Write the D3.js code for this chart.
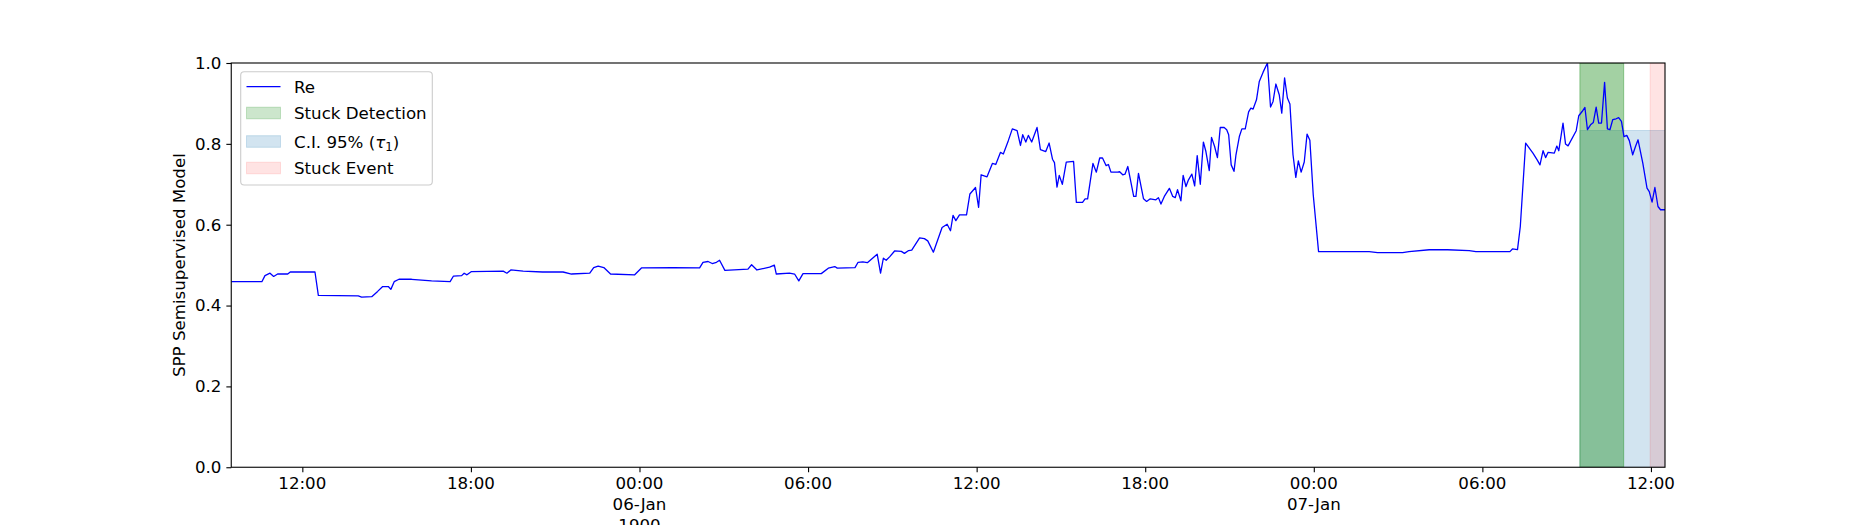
<!DOCTYPE html>
<html>
<head>
<meta charset="utf-8">
<script src="https://cdn.jsdelivr.net/npm/d3@7"></script>
<style>
  html, body { margin: 0; padding: 0; background: #fff; }
  svg { display: block; }
  text { font-family: "DejaVu Sans", sans-serif; }
</style>
</head>
<body>
<svg id="chart" width="1850" height="525"></svg>
<script>
// ---------------- data ----------------
// hours since 1900-01-05 00:00
const hours = [
  9.47, 10.56, 10.67, 10.85, 10.98, 11.12, 11.48, 11.57, 12.45, 12.57, 13.99, 14.11, 14.47, 14.68, 14.86, 15.06,
  15.15, 15.27, 15.44, 15.89, 16.6, 17.26, 17.38, 17.67, 17.76, 17.86, 18.02, 19.15, 19.28, 19.42, 19.86, 20.55,
  21.28, 21.58, 22.23, 22.37, 22.53, 22.73, 22.97, 23.83, 24.07, 25.19, 26.14, 26.26, 26.44, 26.59, 26.74, 26.85,
  27.04, 27.86, 27.99, 28.18, 28.63, 28.80, 28.87, 29.34, 29.52, 29.67, 29.82, 30.47, 30.72, 30.95, 31.04, 31.67,
  31.78, 31.95, 32.11, 32.46, 32.58, 32.68, 32.78, 32.91, 33.08, 33.32, 33.43, 33.58, 33.69, 33.97, 34.14, 34.26,
  34.46, 34.77, 34.95, 35.07, 35.16, 35.26, 35.39, 35.64, 35.76, 35.96, 36.07, 36.16, 36.37, 36.56, 36.68, 36.85,
  36.95, 37.13, 37.27, 37.44, 37.56, 37.64, 37.75, 37.84, 37.96, 38.15, 38.27, 38.46, 38.58, 38.70, 38.77, 38.86,
  38.94, 39.05, 39.19, 39.45, 39.55, 39.77, 39.86, 39.95, 40.14, 40.26, 40.38, 40.48, 40.61, 40.69, 40.78, 41.02,
  41.09, 41.20, 41.28, 41.38, 41.59, 41.67, 41.76, 41.94, 42.05, 42.18, 42.38, 42.47, 42.56, 42.68, 42.86, 42.98,
  43.07, 43.15, 43.27, 43.35, 43.45, 43.54, 43.66, 43.76, 43.85, 43.96, 44.07, 44.16, 44.28, 44.36, 44.47, 44.57,
  44.67, 44.81, 44.90, 44.97, 45.06, 45.16, 45.23, 45.35, 45.44, 45.56, 45.68, 45.76, 45.84, 45.96, 46.06, 46.20,
  46.35, 46.46, 46.55, 46.65, 46.77, 46.86, 46.96, 47.06, 47.15, 47.26, 47.36, 47.45, 47.55, 47.66, 47.76, 47.86,
  47.98, 48.17, 49.97, 50.27, 51.16, 51.39, 52.11, 52.76, 53.53, 53.77, 54.98, 55.07, 55.25, 55.35, 55.54, 55.80,
  55.95, 56.05, 56.16, 56.25, 56.34, 56.56, 56.65, 56.72, 56.87, 56.96, 57.05, 57.34, 57.43, 57.55, 57.65, 57.74,
  57.85, 57.95, 58.05, 58.14, 58.24, 58.35, 58.45, 58.54, 58.64, 58.76, 58.85, 58.95, 59.04, 59.14, 59.23, 59.35,
  59.45, 59.54, 59.71, 59.86, 59.94, 60.04, 60.14, 60.25, 60.34, 60.50
];
const reValues = [
  0.459, 0.459, 0.474, 0.480, 0.472, 0.478, 0.478, 0.483, 0.483, 0.425, 0.424, 0.421, 0.422, 0.435, 0.447, 0.447,
  0.440, 0.459, 0.465, 0.465, 0.461, 0.459, 0.473, 0.474, 0.480, 0.476, 0.484, 0.485, 0.480, 0.488, 0.485, 0.483,
  0.483, 0.478, 0.480, 0.494, 0.4975, 0.494, 0.478, 0.476, 0.493, 0.494, 0.493, 0.507, 0.509, 0.504, 0.507, 0.512,
  0.487, 0.490, 0.501, 0.488, 0.495, 0.500, 0.478, 0.480, 0.478, 0.461, 0.479, 0.479, 0.4925, 0.4965, 0.4925, 0.494,
  0.507, 0.508, 0.506, 0.527, 0.480, 0.517, 0.512, 0.521, 0.535, 0.534, 0.529, 0.536, 0.537, 0.5675, 0.5655, 0.560,
  0.532, 0.593, 0.601, 0.585, 0.623, 0.610, 0.6245, 0.6245, 0.676, 0.692, 0.643, 0.7235, 0.7185, 0.7515, 0.749, 0.779,
  0.775, 0.8085, 0.837, 0.8325, 0.796, 0.8225, 0.8045, 0.821, 0.8045, 0.8405, 0.7855, 0.781, 0.802, 0.762, 0.7535, 0.693,
  0.722, 0.700, 0.755, 0.7565, 0.655, 0.655, 0.664, 0.664, 0.7515, 0.730, 0.765, 0.765, 0.746, 0.749, 0.730, 0.730,
  0.731, 0.7235, 0.725, 0.744, 0.670, 0.670, 0.727, 0.664, 0.6575, 0.664, 0.6615, 0.667, 0.651, 0.670, 0.690, 0.670,
  0.667, 0.6865, 0.659, 0.722, 0.6945, 0.711, 0.725, 0.696, 0.771, 0.700, 0.8045, 0.781, 0.734, 0.816, 0.7935, 0.766,
  0.8405, 0.8405, 0.835, 0.8225, 0.748, 0.732, 0.773, 0.818, 0.837, 0.837, 0.879, 0.8885, 0.886, 0.909, 0.9545, 0.978,
  1.0, 0.891, 0.905, 0.948, 0.9215, 0.876, 0.963, 0.9135, 0.8985, 0.773, 0.717, 0.758, 0.730, 0.755, 0.824, 0.809,
  0.674, 0.5335, 0.5335, 0.531, 0.531, 0.5335, 0.538, 0.538, 0.536, 0.5335, 0.5335, 0.540, 0.5385, 0.5955, 0.802, 0.777,
  0.7605, 0.748, 0.783, 0.766, 0.779, 0.777, 0.7945, 0.783, 0.8515, 0.7995, 0.795, 0.8325, 0.8695, 0.880, 0.890, 0.835,
  0.847, 0.853, 0.891, 0.8515, 0.8515, 0.952, 0.837, 0.835, 0.860, 0.862, 0.865, 0.8555, 0.818, 0.821, 0.808, 0.773,
  0.7935, 0.810, 0.7525, 0.6905, 0.682, 0.656, 0.692, 0.645, 0.637, 0.637
];
// x range (hours since 1900-01-05 00:00)
const xDomainHours = [9.47, 60.5];
// shaded spans: [startHour, endHour, topValue]
const detectionSpan = [57.47, 59.03, 1.0];
const ciSpan = [57.47, 60.6, 0.833];
const stuckSpan = [59.97, 60.6, 1.0];
// ticks
const xTickHours = [12, 18, 24, 30, 36, 42, 48, 54, 60];
const xTickLabels = [["12:00"], ["18:00"], ["00:00", "06-Jan", "1900"], ["06:00"], ["12:00"], ["18:00"], ["00:00", "07-Jan"], ["06:00"], ["12:00"]];
const yTicks = [0.0, 0.2, 0.4, 0.6, 0.8, 1.0];
const yLabel = "SPP Semisupervised Model";
const legendLabels = ["Re", "Stuck Detection", "C.I. 95% (", "Stuck Event"];

// ---------------- layout ----------------
const W = 1850, H = 525;
const margin = { left: 231.25, right: 1665, top: 63, bottom: 467.25 };
const FS = 16.67;
const base = Date.UTC(1900, 0, 5);
const toDate = h => new Date(base + h * 3600e3);

const svg = d3.select("#chart");
const x = d3.scaleUtc().domain(xDomainHours.map(toDate)).range([margin.left, margin.right]);
const y = d3.scaleLinear().domain([0, 1]).range([margin.bottom, margin.top]);

svg.append("defs").append("clipPath").attr("id", "clip")
  .append("rect").attr("x", margin.left).attr("y", margin.top)
  .attr("width", margin.right - margin.left).attr("height", margin.bottom - margin.top);

const plot = svg.append("g").attr("clip-path", "url(#clip)");

function span(s, color, op) {
  plot.append("rect")
    .attr("x", x(toDate(s[0]))).attr("width", x(toDate(s[1])) - x(toDate(s[0])))
    .attr("y", y(s[2])).attr("height", y(0) - y(s[2]))
    .attr("fill", color).attr("fill-opacity", op)
    .attr("stroke", color).attr("stroke-opacity", op).attr("stroke-width", 1);
}
span(ciSpan, "#1f77b4", 0.2);
span(detectionSpan, "#008000", 0.36);
span(stuckSpan, "#ff0000", 0.11);

const pts = hours.map((h, i) => [toDate(h), reValues[i]]);
plot.append("path")
  .datum(pts)
  .attr("fill", "none").attr("stroke", "#0000ff").attr("stroke-width", 1.3)
  .attr("stroke-linejoin", "round")
  .attr("d", d3.line().x(d => x(d[0])).y(d => y(d[1])));

// spines
svg.append("rect")
  .attr("x", margin.left).attr("y", margin.top)
  .attr("width", margin.right - margin.left).attr("height", margin.bottom - margin.top)
  .attr("fill", "none").attr("stroke", "#000").attr("stroke-width", 1.1);

// y axis
const yAxis = d3.axisLeft(y).tickValues(yTicks).tickFormat(d3.format(".1f")).tickSize(4.9).tickPadding(4.9);
const gy = svg.append("g").attr("transform", `translate(${margin.left},0)`).call(yAxis);
gy.select(".domain").remove();
gy.selectAll("line").attr("stroke", "#000").attr("stroke-width", 1.1);
gy.selectAll("text").attr("font-size", FS).attr("fill", "#000").attr("font-family", "DejaVu Sans");

// x axis
const xTickDates = xTickHours.map(toDate);
const xAxis = d3.axisBottom(x).tickValues(xTickDates).tickFormat("").tickSize(4.9);
const gx = svg.append("g").attr("transform", `translate(0,${margin.bottom})`).call(xAxis);
gx.select(".domain").remove();
gx.selectAll("line").attr("stroke", "#000").attr("stroke-width", 1.1);
xTickDates.forEach((d, i) => {
  const t = svg.append("text").attr("x", x(d)).attr("text-anchor", "middle")
    .attr("font-size", FS).attr("fill", "#000");
  xTickLabels[i].forEach((line, j) => {
    t.append("tspan").attr("x", x(d)).attr("y", margin.bottom + 22 + j * 21).text(line);
  });
});

// y label
svg.append("text")
  .attr("transform", `translate(184.5,${(margin.top + margin.bottom) / 2}) rotate(-90)`)
  .attr("text-anchor", "middle").attr("font-size", FS).attr("fill", "#000")
  .text(yLabel);

// legend
const lg = svg.append("g");
lg.append("rect").attr("x", 240.7).attr("y", 71.7).attr("width", 191.6).attr("height", 113.3)
  .attr("rx", 3.5).attr("fill", "#fff").attr("fill-opacity", 0.8)
  .attr("stroke", "#cccccc").attr("stroke-width", 1.1);
const rowY = [86.7, 113.0, 141.5, 168.0];
const hx0 = 246.5, hx1 = 280.5, tx = 294;
lg.append("line").attr("x1", hx0).attr("x2", hx1).attr("y1", rowY[0]).attr("y2", rowY[0])
  .attr("stroke", "#0000ff").attr("stroke-width", 1.3);
const patchSpec = [null, ["#008000", 0.2], ["#1f77b4", 0.2], ["#ff0000", 0.11]];
for (let i = 1; i < 4; i++) {
  lg.append("rect").attr("x", hx0).attr("y", rowY[i] - 5.8).attr("width", hx1 - hx0).attr("height", 11.6)
    .attr("fill", patchSpec[i][0]).attr("fill-opacity", patchSpec[i][1])
    .attr("stroke", patchSpec[i][0]).attr("stroke-opacity", patchSpec[i][1]).attr("stroke-width", 1);
}
legendLabels.forEach((lab, i) => {
  const t = lg.append("text").attr("x", tx).attr("y", rowY[i] + 6.1).attr("font-size", FS).attr("fill", "#000");
  if (i === 2) {
    t.append("tspan").text(lab);
    t.append("tspan").attr("font-style", "italic").text("τ");
    t.append("tspan").attr("font-size", FS * 0.7).attr("dy", 3.5).text("1");
    t.append("tspan").attr("dy", -3.5).text(")");
  } else {
    t.text(lab);
  }
});
</script>
</body>
</html>
